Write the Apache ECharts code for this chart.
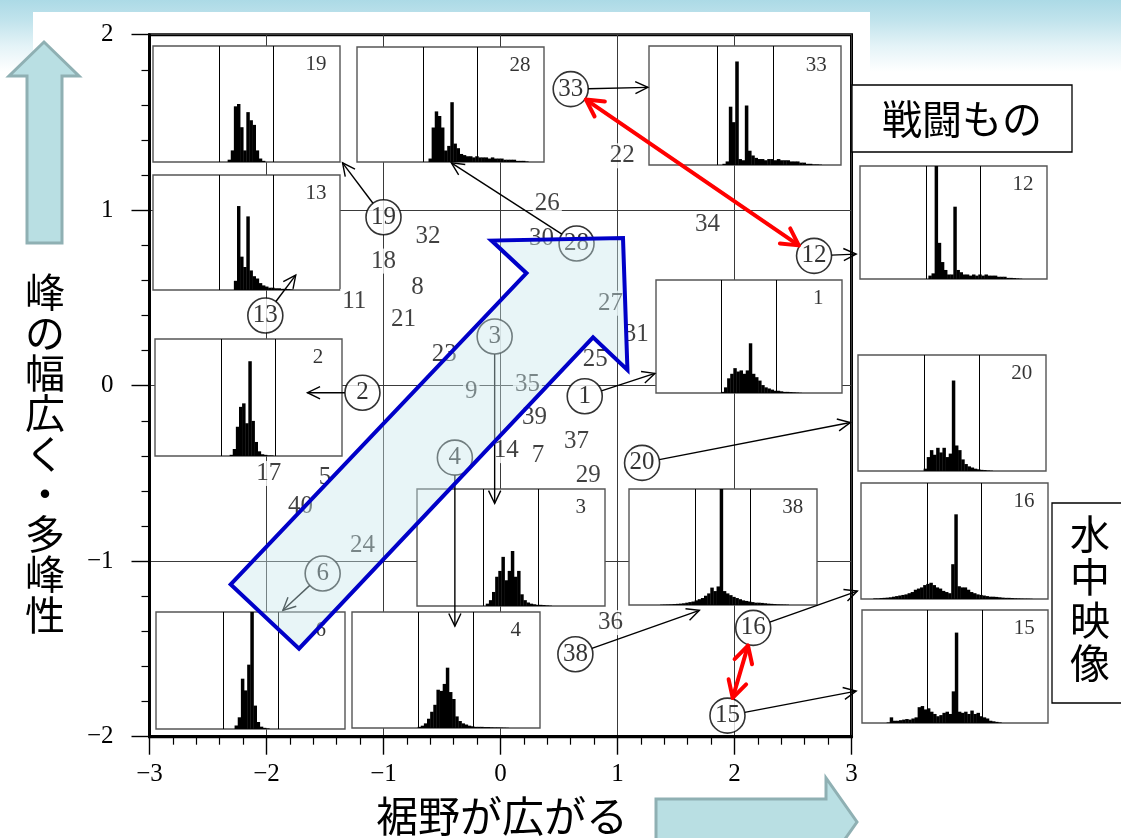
<!DOCTYPE html>
<html lang="ja">
<head>
<meta charset="utf-8">
<title>ヒストグラム形状の分布</title>
<script src="https://cdn.jsdelivr.net/npm/echarts@6/dist/echarts.min.js"></script>
<style>
html,body{margin:0;padding:0;}
body{width:1121px;height:838px;overflow:hidden;
  background:linear-gradient(to bottom,#acdae6 0px,#c0e3ec 20px,#e4f3f7 46px,#ffffff 72px);}
#chart{width:1121px;height:838px;}
</style>
</head>
<body>
<div id="chart"></div>
<script>
// ---------------- data ----------------
const xRange = [-3, 3];
const yRange = [-2, 2];

// plain numbered points
const plainIds = ['22','26','34','30','32','18','8','11','21','27','31','25','23','9','35','39','14','7','37','29','17','5','40','24','36'];
const plainX = [1.04, 0.40, 1.77, 0.35, -0.62, -1.00, -0.71, -1.25, -0.83, 0.94, 1.16, 0.81, -0.48, -0.25, 0.23, 0.29, 0.05, 0.32, 0.65, 0.75, -1.98, -1.50, -1.71, -1.18, 0.94];
const plainY = [1.31, 1.04, 0.92, 0.84, 0.85, 0.71, 0.56, 0.48, 0.38, 0.47, 0.29, 0.15, 0.18, -0.03, 0.01, -0.18, -0.37, -0.40, -0.32, -0.51, -0.50, -0.52, -0.69, -0.91, -1.35];

// circled points (each has its histogram drawn nearby)
const keyIds = ['33','19','28','12','13','3','2','1','4','20','6','38','16','15'];
const keyX = [0.60, -1.00, 0.65, 2.68, -2.01, -0.05, -1.18, 0.72, -0.39, 1.21, -1.52, 0.64, 2.16, 1.94];
const keyY = [1.69, 0.96, 0.81, 0.74, 0.40, 0.28, -0.04, -0.06, -0.41, -0.44, -1.07, -1.53, -1.38, -1.88];
// where each circled point's pointer ends
const arrowToX = [1.26, -1.35, -0.42, 3.04, -1.75, -0.05, -1.65, 1.32, -0.39, 2.99, -1.86, 1.70, 3.05, 3.04];
const arrowToY = [1.70, 1.27, 1.27, 0.75, 0.63, -0.67, -0.04, 0.07, -1.37, -0.21, -1.28, -1.28, -1.17, -1.74];
// pairs joined by red double-headed arrows
const redPairs = [['33','12'], ['16','15']];

// broad arrow outline (data coordinates)
const bigArrowX = [-2.306, 0.222, -0.077, 1.047, 1.085, 0.791, -1.722];
const bigArrowY = [-1.132, 0.641, 0.827, 0.841, 0.090, 0.276, -1.498];

// luminance histograms, 60 bins each, relative heights
const hist19 = [0,0,0,0,0,0,0,0,0,0, 0,0,0,0,0,0,0,0,0,0, 0,0,0,0,0.02,0.1,0.48,0.5,0.3,0.1, 0.43,0.36,0.32,0.1,0.03,0.01,0,0,0,0, 0,0,0,0,0,0,0,0,0,0, 0,0,0,0,0,0,0,0,0,0];
const hist28 = [0,0,0,0,0,0,0,0,0,0, 0,0,0,0,0,0,0,0,0,0, 0,0,0,0.03,0.3,0.44,0.4,0.3,0.1,0.14, 0.52,0.16,0.12,0.07,0.06,0.05,0.05,0.04,0.05,0.04, 0.04,0.04,0.03,0.04,0.03,0.03,0.03,0.02,0.02,0.02, 0.02,0.01,0.01,0.01,0.005,0,0,0,0,0];
const hist13 = [0,0,0,0,0,0,0,0,0,0, 0,0,0,0,0,0,0,0,0,0, 0,0,0,0,0,0,0.08,0.73,0.29,0.2, 0.64,0.17,0.12,0.1,0.06,0.04,0.03,0.02,0.02,0.015, 0.015,0.01,0.01,0.008,0.005,0,0,0,0,0, 0,0,0,0,0,0,0,0,0,0];
const hist33 = [0,0,0,0,0,0,0,0,0,0, 0,0,0,0,0,0,0,0,0,0, 0,0,0,0.01,0.03,0.49,0.36,0.87,0.05,0.04, 0.5,0.12,0.08,0.06,0.05,0.05,0.04,0.05,0.05,0.04, 0.05,0.04,0.04,0.04,0.03,0.03,0.03,0.02,0.02,0.01, 0.01,0.005,0.005,0.003,0,0,0,0,0,0];
const hist12 = [0,0,0,0,0,0,0,0,0,0, 0,0,0,0,0,0,0,0,0,0, 0,0,0.03,0.05,1.0,0.32,0.15,0.08,0.04,0.04, 0.64,0.08,0.06,0.04,0.04,0.03,0.04,0.03,0.04,0.03, 0.04,0.03,0.03,0.03,0.02,0.02,0.02,0.01,0.01,0.008, 0.005,0.003,0,0,0,0,0,0,0,0];
const hist1 = [0,0,0,0,0,0,0,0,0,0, 0,0,0,0,0,0,0,0,0,0, 0,0.01,0.05,0.13,0.17,0.22,0.19,0.2,0.17,0.2, 0.44,0.17,0.14,0.11,0.07,0.05,0.04,0.03,0.02,0.02, 0.015,0.01,0.01,0.008,0.006,0.004,0.002,0,0,0, 0,0,0,0,0,0,0,0,0,0];
const hist2 = [0,0,0,0,0,0,0,0,0,0, 0,0,0,0,0,0,0,0,0,0, 0,0,0,0,0.01,0.06,0.25,0.42,0.45,0.28, 0.81,0.3,0.12,0.04,0.015,0.01,0.005,0.005,0,0, 0,0,0,0,0,0,0,0,0,0, 0,0,0,0,0,0,0,0,0,0];
const hist20 = [0,0,0,0,0,0,0,0,0,0, 0,0,0,0,0,0,0,0,0,0, 0,0.02,0.12,0.18,0.14,0.2,0.16,0.2,0.12,0.15, 0.78,0.22,0.18,0.1,0.06,0.04,0.03,0.02,0.015,0.01, 0.008,0.005,0.003,0,0,0,0,0,0,0, 0,0,0,0,0,0,0,0,0,0];
const hist3 = [0,0,0,0,0,0,0,0,0,0, 0,0,0,0,0,0,0,0,0,0, 0,0,0.02,0.05,0.12,0.25,0.3,0.42,0.22,0.3, 0.47,0.25,0.3,0.1,0.05,0.03,0.02,0.015,0.01,0.01, 0.008,0.005,0.003,0,0,0,0,0,0,0, 0,0,0,0,0,0,0,0,0,0];
const hist38 = [0,0,0,0,0,0,0,0,0,0, 0.003,0.004,0.005,0.006,0.008,0.01,0.012,0.015,0.02,0.025, 0.03,0.04,0.05,0.06,0.08,0.1,0.15,0.12,0.16,1.0, 0.12,0.1,0.085,0.07,0.06,0.05,0.04,0.035,0.03,0.025, 0.02,0.02,0.018,0.015,0.012,0.01,0.008,0.006,0.005,0.004, 0.003,0,0,0,0,0,0,0,0,0];
const hist16 = [0,0,0,0,0.005,0.005,0.008,0.01,0.012,0.015, 0.02,0.025,0.03,0.035,0.04,0.05,0.06,0.08,0.09,0.1, 0.12,0.13,0.14,0.12,0.1,0.09,0.07,0.06,0.05,0.3, 0.73,0.11,0.1,0.1,0.08,0.06,0.05,0.04,0.035,0.03, 0.025,0.02,0.02,0.018,0.015,0.012,0.01,0.01,0.008,0.006, 0.005,0.004,0.003,0.003,0.002,0,0,0,0,0];
const hist15 = [0,0,0,0,0,0,0,0,0.005,0.05, 0.02,0.02,0.025,0.03,0.035,0.03,0.04,0.05,0.14,0.15, 0.12,0.13,0.1,0.08,0.06,0.07,0.09,0.1,0.08,0.28, 0.8,0.1,0.09,0.1,0.08,0.11,0.08,0.09,0.06,0.05, 0.04,0.02,0.015,0.01,0.005,0,0,0,0,0, 0,0,0,0,0,0,0,0,0,0];
const hist6 = [0,0,0,0,0,0,0,0,0,0, 0,0,0,0,0,0,0,0,0,0, 0,0,0,0,0,0.03,0.1,0.43,0.33,0.55, 1.0,0.2,0.06,0.02,0.01,0.005,0,0,0,0, 0,0,0,0,0,0,0,0,0,0, 0,0,0,0,0,0,0,0,0,0];
const hist4 = [0,0,0,0,0,0,0,0,0,0, 0,0,0,0,0,0,0,0,0,0, 0,0.01,0.02,0.04,0.08,0.14,0.2,0.33,0.32,0.38, 0.52,0.31,0.25,0.1,0.06,0.04,0.03,0.02,0.015,0.01, 0.01,0.01,0.008,0.008,0.006,0.005,0.005,0.004,0.003,0.002, 0,0,0,0,0,0,0,0,0,0];

const insetIds = ['19','28','13','33','12','1','2','20','3','38','16','15','6','4'];
const insetHists = [hist19, hist28, hist13, hist33, hist12, hist1, hist2, hist20, hist3, hist38, hist16, hist15, hist6, hist4];
const binDividers = [21.2, 38.7];

// ---------------- layout ----------------
const SERIF = '"Liberation Serif","DejaVu Serif",serif';
const JP = '"Noto Sans CJK JP","Noto Sans CJK SC",sans-serif';
const BINS = 60;
// pixel boxes of the histogram panels: left, top, width, height
const insetBoxes = [
  [153, 46, 187, 116], [357, 47, 187, 115], [153, 175, 187, 115], [649, 46, 192, 119],
  [860, 166, 187, 113], [656, 280, 186, 113], [155, 339, 187, 117], [858, 355, 188, 116],
  [417, 489, 188, 117], [629, 489, 188, 116], [861, 483, 187, 116], [862, 610, 186, 113],
  [156, 612, 189, 117], [352, 612, 188, 116]
];
const R = 17.5; // circle radius in px

const minusFmt = v => (v < 0 ? '\u2212' + Math.abs(v) : String(v));

const grids = [{
  left: 149.5, top: 34.7, width: 702, height: 702, show: true,
  backgroundColor: '#fff', borderColor: '#000', borderWidth: 3, z: 0
}];
const xAxes = [{
  gridIndex: 0, type: 'value', min: xRange[0], max: xRange[1], interval: 1, z: 0,
  axisLine: { show: true, onZero: false, lineStyle: { color: '#000', width: 3 } },
  axisTick: { show: true, length: 18, lineStyle: { color: '#000', width: 1.4 } },
  minorTick: { show: true, splitNumber: 5, length: 8, lineStyle: { color: '#000', width: 1.2 } },
  splitLine: { show: true, lineStyle: { color: '#3a3a3a', width: 1 } },
  axisLabel: { color: '#000', fontFamily: SERIF, fontSize: 25, margin: 25, formatter: minusFmt }
}];
const yAxes = [{
  gridIndex: 0, type: 'value', min: yRange[0], max: yRange[1], interval: 1, z: 0,
  axisLine: { show: true, onZero: false, lineStyle: { color: '#000', width: 3 } },
  axisTick: { show: true, length: 18, lineStyle: { color: '#000', width: 1.4 } },
  minorTick: { show: true, splitNumber: 5, length: 8, lineStyle: { color: '#000', width: 1.2 } },
  splitLine: { show: true, lineStyle: { color: '#3a3a3a', width: 1 } },
  axisLabel: { color: '#000', fontFamily: SERIF, fontSize: 25, margin: 36, formatter: minusFmt }
}];
const series = [];

// histogram panels
insetIds.forEach((id, i) => {
  const b = insetBoxes[i];
  const gi = i + 1;
  grids.push({ left: b[0], top: b[1], width: b[2], height: b[3], show: true,
    backgroundColor: '#fff', borderColor: '#555', borderWidth: 1.4, z: 2 });
  xAxes.push({ gridIndex: gi, type: 'value', min: 0, max: BINS, show: false });
  yAxes.push({ gridIndex: gi, type: 'value', min: 0, max: 1, show: false });
  series.push({
    type: 'bar', xAxisIndex: gi, yAxisIndex: gi, z: 3, silent: true,
    barWidth: b[2] / BINS + 0.35,
    itemStyle: { color: '#000' },
    data: insetHists[i].map((v, k) => [k + 0.5, v]),
    markLine: {
      silent: true, symbol: ['none', 'none'], label: { show: false },
      lineStyle: { color: '#000', width: 1, type: 'solid' },
      data: binDividers.map(d => ({ xAxis: d }))
    }
  });
  series.push({
    type: 'scatter', xAxisIndex: gi, yAxisIndex: gi, z: 4, silent: true,
    symbolSize: 1, itemStyle: { color: 'rgba(0,0,0,0)' },
    data: [[52.3, 0.84]],
    label: { show: true, position: 'inside', formatter: id,
      fontFamily: SERIF, fontSize: 21, color: '#000' }
  });
});

// plain numbered points
series.push({
  type: 'scatter', xAxisIndex: 0, yAxisIndex: 0, z: 4, silent: true,
  symbolSize: 1, itemStyle: { color: 'rgba(0,0,0,0)' },
  data: plainIds.map((id, i) => [plainX[i], plainY[i], id]),
  label: { show: true, position: 'inside', formatter: p => p.data[2],
    fontFamily: SERIF, fontSize: 25, color: '#111',
    backgroundColor: '#fff', padding: [0, 2] }
});

// circled points
series.push({
  type: 'scatter', xAxisIndex: 0, yAxisIndex: 0, z: 5, silent: true,
  symbol: 'circle', symbolSize: 2 * R,
  itemStyle: { color: '#fff', borderColor: '#000', borderWidth: 1.6 },
  data: keyIds.map((id, i) => [keyX[i], keyY[i], id]),
  label: { show: true, position: 'inside', formatter: p => p.data[2],
    fontFamily: SERIF, fontSize: 25, color: '#000' }
});

function headPts(tip, from, len, half) {
  const a = Math.atan2(tip[1] - from[1], tip[0] - from[0]);
  return [
    [tip[0] - len * Math.cos(a - half), tip[1] - len * Math.sin(a - half)],
    tip,
    [tip[0] - len * Math.cos(a + half), tip[1] - len * Math.sin(a + half)]
  ];
}

// black pointers from circled points to their panels
series.push({
  type: 'custom', coordinateSystem: 'cartesian2d', xAxisIndex: 0, yAxisIndex: 0,
  z: 6, silent: true, clip: false,
  encode: { x: [0, 2], y: [1, 3] },
  data: keyIds.map((id, i) => [keyX[i], keyY[i], arrowToX[i], arrowToY[i]]),
  renderItem: (params, api) => {
    const p0 = api.coord([api.value(0), api.value(1)]);
    const p1 = api.coord([api.value(2), api.value(3)]);
    const dx = p1[0] - p0[0], dy = p1[1] - p0[1], L = Math.hypot(dx, dy);
    const s = [p0[0] + dx / L * R, p0[1] + dy / L * R];
    const st = { stroke: '#000', lineWidth: 1.4, fill: null };
    return { type: 'group', children: [
      { type: 'line', shape: { x1: s[0], y1: s[1], x2: p1[0], y2: p1[1] }, style: st },
      { type: 'polyline', shape: { points: headPts(p1, s, 14, 0.45) }, style: st }
    ] };
  }
});

// red double-headed arrows between compared points
series.push({
  type: 'custom', coordinateSystem: 'cartesian2d', xAxisIndex: 0, yAxisIndex: 0,
  z: 7, silent: true, clip: false,
  encode: { x: [0, 2], y: [1, 3] },
  data: redPairs.map(([a, b]) => {
    const ia = keyIds.indexOf(a), ib = keyIds.indexOf(b);
    return [keyX[ia], keyY[ia], keyX[ib], keyY[ib]];
  }),
  renderItem: (params, api) => {
    const p0 = api.coord([api.value(0), api.value(1)]);
    const p1 = api.coord([api.value(2), api.value(3)]);
    const dx = p1[0] - p0[0], dy = p1[1] - p0[1], L = Math.hypot(dx, dy);
    const t = R + 1;
    const s = [p0[0] + dx / L * t, p0[1] + dy / L * t];
    const e = [p1[0] - dx / L * t, p1[1] - dy / L * t];
    const st = { stroke: '#ff0000', lineWidth: 4, fill: null, lineCap: 'round', lineJoin: 'round' };
    return { type: 'group', children: [
      { type: 'line', shape: { x1: s[0], y1: s[1], x2: e[0], y2: e[1] }, style: st },
      { type: 'polyline', shape: { points: headPts(e, s, 19, 0.5) }, style: st },
      { type: 'polyline', shape: { points: headPts(s, e, 19, 0.5) }, style: st }
    ] };
  }
});

// broad translucent arrow across the plane
series.push({
  type: 'custom', coordinateSystem: 'cartesian2d', xAxisIndex: 0, yAxisIndex: 0,
  z: 9, silent: true, clip: false,
  encode: { x: 0, y: 1 },
  data: [[bigArrowX[0], bigArrowY[0]]],
  renderItem: (params, api) => ({
    type: 'polygon',
    shape: { points: bigArrowX.map((x, i) => api.coord([x, bigArrowY[i]])) },
    style: { fill: 'rgba(200,230,236,0.42)', stroke: '#0000c8', lineWidth: 4, lineJoin: 'miter' }
  })
});

// slide decorations: axis meanings and group captions
const graphicEls = [
  { type: 'rect', z: -10, shape: { x: 33, y: 12, width: 837, height: 830 }, style: { fill: '#fff' } },
  { type: 'polygon', z: 20, shape: { points: [[44, 42], [79, 76], [62, 76], [62, 243], [27, 243], [27, 76], [9, 76]] },
    style: { fill: '#b9dfe3', stroke: '#8fb0b3', lineWidth: 3 } },
  { type: 'polygon', z: 20, shape: { points: [[656, 799], [826, 799], [826, 778], [857, 822], [826, 866], [826, 845], [656, 845]] },
    style: { fill: '#b9dfe3', stroke: '#8fb0b3', lineWidth: 3 } },
  { type: 'text', z: 20, x: 45, y: 272,
    style: { text: '峰\nの\n幅\n広\nく\n・\n多\n峰\n性', font: '40px ' + JP, lineHeight: 40.3,
      fill: '#000', textAlign: 'center', align: 'center', textVerticalAlign: 'top', verticalAlign: 'top' } },
  { type: 'text', z: 20, x: 502, y: 816,
    style: { text: '裾野が広がる', font: '42px ' + JP, fill: '#000',
      textAlign: 'center', align: 'center', textVerticalAlign: 'middle', verticalAlign: 'middle' } },
  { type: 'rect', z: 20, shape: { x: 852, y: 85, width: 220, height: 67 },
    style: { fill: '#fff', stroke: '#000', lineWidth: 1.3 } },
  { type: 'text', z: 21, x: 962, y: 119,
    style: { text: '戦闘もの', font: '40px ' + JP, fill: '#000',
      textAlign: 'center', align: 'center', textVerticalAlign: 'middle', verticalAlign: 'middle' } },
  { type: 'rect', z: 20, shape: { x: 1052, y: 503, width: 80, height: 200 },
    style: { fill: '#fff', stroke: '#000', lineWidth: 1.3 } },
  { type: 'text', z: 21, x: 1090, y: 512,
    style: { text: '水\n中\n映\n像', font: '40px ' + JP, lineHeight: 43,
      fill: '#000', textAlign: 'center', align: 'center', textVerticalAlign: 'top', verticalAlign: 'top' } }
];

const chart = echarts.init(document.getElementById('chart'));
chart.setOption({
  animation: false,
  backgroundColor: 'transparent',
  grid: grids,
  xAxis: xAxes,
  yAxis: yAxes,
  series: series,
  graphic: { elements: graphicEls }
});
</script>
</body>
</html>
